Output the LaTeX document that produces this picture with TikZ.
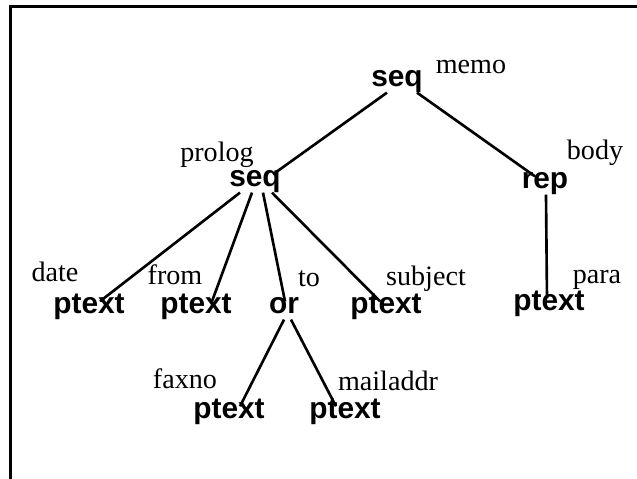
\documentclass[tikz,border=0pt]{standalone}
\usepackage{fontspec}
\setmainfont{Liberation Serif}
\newfontfamily\helv{Liberation Sans}

\begin{document}
\begin{tikzpicture}[x=0.02cm, y=-0.02cm,
  kind/.style={anchor=base, inner sep=1pt, text height=0.6em, text depth=0.2em, font=\helv\bfseries\fontsize{17}{19}\selectfont},
  tag/.style={anchor=base, inner sep=0pt, font=\fontsize{16}{18}\selectfont},
  edge/.style={line width=1.5pt}]
\useasboundingbox (0,0) rectangle (637,479);
\clip (0,0) rectangle (637,479);
\draw[line width=1.2pt] (10.5,6.5) rectangle (700,520);

\node[kind](memo) at (397,87) {seq};
\node[tag](memol) at (471,74) {memo};

\node[kind](prolog) at (255,187) {seq};
\node[tag](prologl) at (217,162) {prolog};
\node[kind](body) at (545,189) {rep};
\node[tag](bodyl) at (595,160) {body};

\node[kind](date) at (89,314) {ptext};
\node[tag](datel) at (55,282) {date};
\node[kind](from) at (196,314) {ptext};
\node[tag](froml) at (175,285) {from};
\node[kind](to) at (284,314) {or};
\node[tag](tol) at (309,287) {to};
\node[kind](subject) at (386,314) {ptext};
\node[tag](subjectl) at (426,286) {subject};
\node[kind](para) at (549,311) {ptext};
\node[tag](paral) at (597,284) {para};

\node[kind](faxno) at (229,419) {ptext};
\node[tag](faxnol) at (185,389) {faxno};
\node[kind](mail) at (345,419) {ptext};
\node[tag](maill) at (388,391) {mailaddr};

\draw[edge] ([xshift=-0.2cm]memo.south) to ([xshift=0.36cm]prolog.north);
\draw[edge] ([xshift=0.4cm]memo.south) to ([xshift=-0.2cm]body.north);

\draw[edge] ([xshift=-0.3cm]prolog.south) to ([xshift=0.22cm]date.north);
\draw[edge] ([xshift=-0.06cm]prolog.south) to ([xshift=0.32cm]from.north);
\draw[edge] ([xshift=0.16cm]prolog.south) to ([xshift=0.02cm]to.north);
\draw[edge] ([xshift=0.34cm]prolog.south) to ([xshift=-0.12cm]subject.north);

\draw[edge] ([xshift=0.02cm]body.south) to ([xshift=-0.04cm]para.north);

\draw[edge] (to.south) to ([xshift=0.22cm]faxno.north);
\draw[edge] ([xshift=0.14cm]to.south) to ([xshift=-0.18cm]mail.north);

\end{tikzpicture}
\end{document}
